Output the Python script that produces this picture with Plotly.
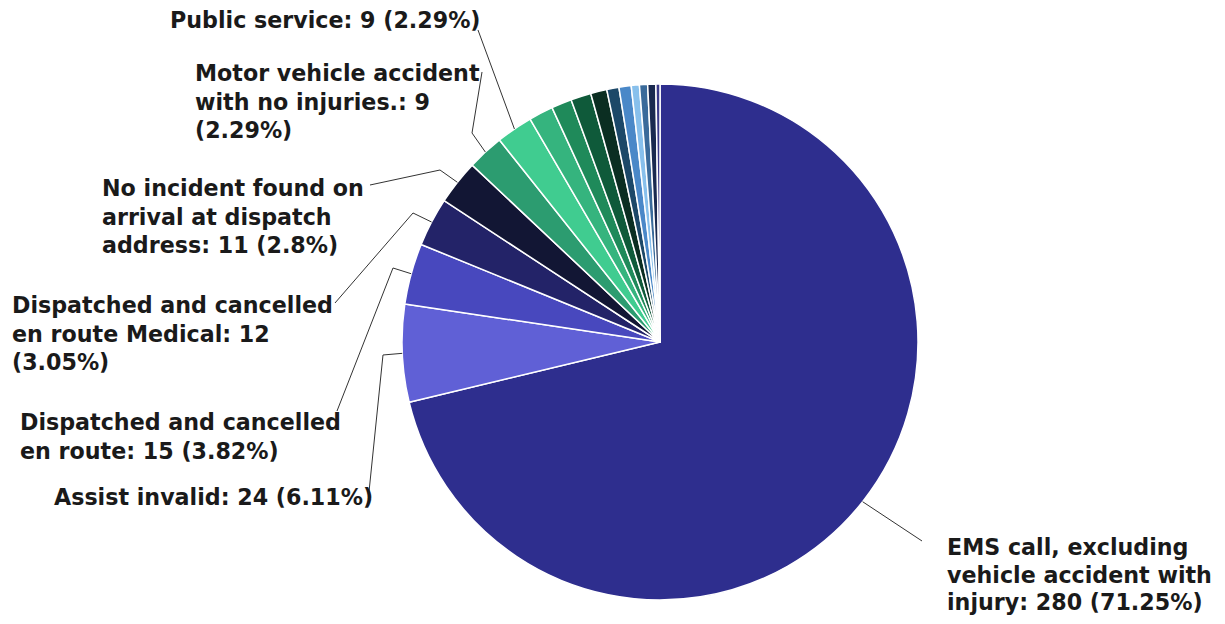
import math
import textwrap
import plotly.graph_objects as go

# ---------------- data ----------------
categories = [
    "EMS call, excluding vehicle accident with injury",
    "Assist invalid",
    "Dispatched and cancelled en route",
    "Dispatched and cancelled en route Medical",
    "No incident found on arrival at dispatch address",
    "Motor vehicle accident with no injuries.",
    "Public service",
    "Other incident type A",
    "Other incident type B",
    "Other incident type C",
    "Other incident type D",
    "Other incident type E",
    "Other incident type F",
    "Other incident type G",
    "Other incident type H",
    "Other incident type I",
    "Other incident type J",
]
counts = [280, 24, 15, 12, 11, 9, 9, 6, 5, 5, 4, 3, 3, 2, 2, 2, 1]
colors = [
    "#2e2e8e", "#6060d6", "#4848be", "#232368", "#121634",
    "#2c9c70", "#40cc90", "#35b47e", "#1f8a5a", "#0f5a3a",
    "#0b2e22", "#1c4868", "#4a88c8", "#88c0ec", "#3a6a9a",
    "#1a2a50", "#3a3a8a",
]

# ---------------- layout parameters ----------------
PAGE_W, PAGE_H = 1225, 624
OFF = 8  # browser body margin
W, H = PAGE_W - 2 * OFF, PAGE_H - 2 * OFF
CX, CY, R = 660, 342, 258          # in page pixels
FONT = dict(family="DejaVu Sans", size=22.2, color="#1a1a1a")

# label placement: index -> (wrap width, left x, first line y, line height, leader path points after slice edge)
label_cfg = {
    0: (21, 945, 547, 27.5, [(922, 541)]),
    1: (40, 52, 497, 28.7, [(383, 355), (369, 492)]),
    2: (24, 18, 422, 28.7, [(393, 268), (337, 411)]),
    3: (24, 10, 305, 28.7, [(413, 213), (335, 303)]),
    4: (20, 100, 188, 28.7, [(440, 170), (370, 185)]),
    5: (22, 193, 73, 28.7, [(472, 133), (482, 72)]),
    6: (40, 168, 20, 28.7, [(478, 30)]),
}

total = sum(counts)


def px(x):
    return (x - OFF) / W


def py(y):
    return 1 - (y - OFF) / H


fig = go.Figure(
    go.Pie(
        labels=categories,
        values=counts,
        sort=False,
        direction="clockwise",
        rotation=0,
        marker=dict(colors=colors, line=dict(color="white", width=1.5)),
        textinfo="none",
        hoverinfo="label+value+percent",
        domain=dict(x=[px(CX - R), px(CX + R)], y=[py(CY + R), py(CY - R)]),
        showlegend=False,
    )
)

annotations = []
shapes = []
cum = 0
for i, v in enumerate(counts):
    mid = (cum + v / 2) / total * 2 * math.pi
    cum += v
    if i not in label_cfg:
        continue
    width, lx, ly, lh, pts = label_cfg[i]
    pct = round(v / total * 100, 2)
    pct_s = ("%.2f" % pct).rstrip("0").rstrip(".")
    text = f"{categories[i]}: {v} ({pct_s}%)"
    for k, line in enumerate(textwrap.wrap(text, width)):
        annotations.append(
            dict(
                x=px(lx), y=py(ly + k * lh), xref="paper", yref="paper",
                text=f"<b>{line}</b>", showarrow=False,
                xanchor="left", yanchor="middle", font=FONT,
            )
        )
    ex = CX + R * math.sin(mid)
    ey = CY - R * math.cos(mid)
    path_pts = [(ex, ey)] + pts
    path = "M " + " L ".join(f"{px(x):.5f},{py(y):.5f}" for x, y in path_pts)
    shapes.append(
        dict(type="path", path=path, xref="paper", yref="paper",
             line=dict(color="#333333", width=1))
    )

fig.update_layout(
    width=W, height=H,
    margin=dict(l=0, r=0, t=0, b=0),
    paper_bgcolor="white", plot_bgcolor="white",
    annotations=annotations, shapes=shapes,
)

fig.write_html("out.html")
